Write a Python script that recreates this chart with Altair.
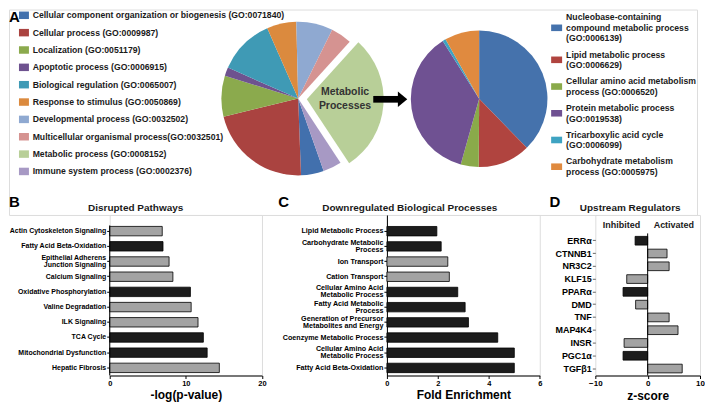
import altair as alt
import pandas as pd
import numpy as np

FONT = "Liberation Sans"
TXT = "#1a1a1a"

# ---------------- Panel A data ----------------
GO_LABELS = [
    "Cellular component organization or biogenesis (GO:0071840)",
    "Cellular process (GO:0009987)",
    "Localization (GO:0051179)",
    "Apoptotic process (GO:0006915)",
    "Biological regulation (GO:0065007)",
    "Response to stimulus (GO:0050869)",
    "Developmental process (GO:0032502)",
    "Multicellular organismal process(GO:0032501)",
    "Metabolic process (GO:0008152)",
    "Immune system process (GO:0002376)",
]
GO_SHARE = [4.8, 21.8, 8.6, 1.8, 11.8, 6.2, 7.7, 4.4, 29.0, 3.9]
GO_COLORS = ["#4270AD", "#AA4340", "#8BAA4D", "#6E528F", "#3F9AB5",
             "#DB8A3E", "#8FA9D1", "#D59391", "#B8CF98", "#A799C4"]

MET_LABELS = [
    "Nucleobase-containing|compound metabolic process|(GO:0006139)",
    "Lipid metabolic process|(GO:0006629)",
    "Cellular amino acid metabolism|process (GO:0006520)",
    "Protein metabolic process|(GO:0019538)",
    "Tricarboxylic acid cycle|(GO:0006099)",
    "Carbohydrate metabolism|process (GO:0005975)",
]
MET_SHARE = [37.7, 12.4, 4.25, 36.7, 0.75, 8.2]
MET_COLORS = ["#4572AC", "#B0443F", "#8AAA4A", "#6F5192", "#3EA3C2", "#E08A3F"]

# ---------------- Panel B data ----------------
B_LABELS = ["Actin Cytoskeleton Signaling", "Fatty Acid Beta-Oxidation",
            "Epithelial Adherens|Junction Signaling", "Calcium Signaling",
            "Oxidative Phosphorylation", "Valine Degradation", "ILK Signaling",
            "TCA Cycle", "Mitochondrial Dysfunction", "Hepatic Fibrosis"]
B_VALUES = [6.9, 7.0, 7.8, 8.3, 10.6, 10.7, 11.6, 12.3, 12.8, 14.4]
B_GROUP = ["other", "metabolic", "other", "other", "metabolic", "other",
           "other", "metabolic", "metabolic", "other"]

# ---------------- Panel C data ----------------
C_LABELS = ["Lipid Metabolic Process", "Carbohydrate Metabolic|Process",
            "Ion Transport", "Cation Transport",
            "Cellular Amino Acid|Metabolic Process", "Fatty Acid Metabolic|Process",
            "Generation of Precursor|Metabolites and Energy",
            "Coenzyme Metabolic Process", "Cellular Amino Acid|Metabolic Process ",
            "Fatty Acid Beta-Oxidation"]
C_VALUES = [1.96, 2.13, 2.39, 2.45, 2.78, 3.07, 3.2, 4.35, 5.0, 5.0]
C_GROUP = ["metabolic", "metabolic", "other", "other", "metabolic", "metabolic",
           "metabolic", "metabolic", "metabolic", "metabolic"]

# ---------------- Panel D data ----------------
D_LABELS = ["ERRα", "CTNNB1", "NR3C2", "KLF15", "PPARα", "DMD", "TNF",
            "MAP4K4", "INSR", "PGC1α", "TGFβ1"]
D_VALUES = [-2.4, 3.7, 4.1, -4.0, -4.7, -2.3, 4.1, 5.8, -4.5, -4.7, 6.6]
D_GROUP = ["metabolic", "other", "other", "other", "metabolic", "other",
           "other", "other", "other", "metabolic", "other"]
D_SIDES = ["Inhibited", "Activated"]
D_SIDE_POS = [-5, 5]

GROUP_DOMAIN = ["other", "metabolic"]
GROUP_COLORS = ["#a3a3a3", "#1c1c1c"]

TWO_PI = 2 * np.pi


def pie_frame(labels, shares):
    df = pd.DataFrame({"cat": labels, "share": shares})
    df["end"] = df["share"].cumsum()
    df["start"] = df["end"] - df["share"]
    return df


def pie_layer(df, cx, cy, r, start, domain, colors):
    return alt.Chart(df).mark_arc(strokeWidth=0).encode(
        theta=alt.Theta("start:Q", scale=alt.Scale(domain=[0, 100], range=[start, start + TWO_PI])),
        theta2="end:Q",
        color=alt.Color("cat:N", scale=alt.Scale(domain=domain, range=colors), legend=None),
        x=alt.value(cx), y=alt.value(cy), radius=alt.value(r),
    )


def legend_layers(labels, colors, sym_x, txt_x, top, lh, gap, sym_shape, sym_size, font_size):
    """Legend drawn as marks: one entry per category, symbol centred on its text block."""
    leg = pd.DataFrame({"cat": labels})
    leg["n"] = [len(s.split("|")) for s in labels]
    leg["h"] = leg["n"] * lh
    leg["yc"] = top + (leg["h"] + gap).cumsum() - gap - leg["h"] / 2
    leg["ty"] = leg["yc"] - (leg["n"] - 1) * lh / 2
    sym = alt.Chart(leg).mark_point(
        shape=sym_shape, size=sym_size, filled=True, opacity=1, strokeWidth=0
    ).encode(
        x=alt.value(sym_x), y=alt.Y("yc:Q", scale=None),
        color=alt.Color("cat:N", scale=alt.Scale(domain=labels, range=colors), legend=None),
    )
    txt = alt.Chart(leg).transform_calculate(lines="split(datum.cat, '|')").mark_text(
        align="left", baseline="middle", font=FONT, fontSize=font_size, fontWeight="bold",
        color=TXT, lineHeight=lh,
    ).encode(x=alt.value(txt_x), y=alt.Y("ty:Q", scale=None), text="lines:N")
    return [sym, txt]


def note(text, x, y, size, align="center", baseline="alphabetic", color=TXT, weight="bold", line_height=None):
    kw = dict(text=text, font=FONT, fontSize=size, fontWeight=weight, align=align,
              baseline=baseline, color=color)
    if line_height is not None:
        kw["lineHeight"] = line_height
    return alt.Chart(pd.DataFrame({"a": [0]})).mark_text(**kw).encode(
        x=alt.value(x), y=alt.value(y))


go = pie_frame(GO_LABELS, GO_SHARE)
met = pie_frame(MET_LABELS, MET_SHARE)
exploded_cat = GO_LABELS[8]

START1 = np.deg2rad(160.6)
pie1_main = pie_layer(go[go["cat"] != exploded_cat], 290, 89.3, 77, START1, GO_LABELS, GO_COLORS)
pie1_expl = pie_layer(go[go["cat"] == exploded_cat], 298.7, 89.9, 77, START1, GO_LABELS, GO_COLORS)
pie2 = pie_layer(met, 471.5, 89.5, 68.5, 0.0, MET_LABELS, MET_COLORS)

left_leg = legend_layers(GO_LABELS, GO_COLORS, 15, 23.7, 1.4, 8.7, 8.7,
                         "M-1,-0.75H1V0.75H-1Z", 100, 8.7)
right_leg = legend_layers(MET_LABELS, MET_COLORS, 549.2, 558.7, 2.4, 10.6, 5.6,
                          "M-1,-0.6H1V0.6H-1Z", 121, 8.7)

arrow_shaft = alt.Chart(pd.DataFrame({"a": [0]})).mark_rule(color="black", strokeWidth=6.7).encode(
    x=alt.value(365.3), x2=alt.value(390.5), y=alt.value(90))
arrow_head = alt.Chart(pd.DataFrame({"a": [0]})).mark_point(
    shape="M-0.6,-1L0.6,0L-0.6,1Z", size=246, filled=True, color="black", opacity=1, strokeWidth=0
).encode(x=alt.value(394.7), y=alt.value(90))

TOP_H = 206
top = alt.layer(
    pie1_main, pie1_expl, pie2, *left_leg, *right_leg, arrow_shaft, arrow_head,
    note(["Metabolic", "Processes"], 337, 83, 10.5, baseline="middle", color="#333333", line_height=13.5),
    note("A", 0, 12, 15, align="left", color="black"),
    note("B", 0, 198, 15, align="left", color="black"),
    note("C", 270, 198, 15, align="left", color="black"),
    note("D", 542, 198, 15, align="left", color="black"),
    note("Disrupted Pathways", 127, 199, 10, baseline="middle"),
    note("Downregulated Biological  Processes", 402, 199, 10, baseline="middle"),
    note("Upstream Regulators", 623, 199, 10, baseline="middle"),
).resolve_scale(theta="independent", color="independent").properties(width=690, height=TOP_H)

H = 161
MULTI = "indexof(datum.label, '|') >= 0"


def x_axis(values, title, label_size=7.5):
    return alt.Axis(values=values, title=title, grid=False, titleFont=FONT, titleFontSize=12,
                    titleFontWeight="bold", titleColor="black", titlePadding=3,
                    labelFont=FONT, labelFontSize=label_size, labelFontWeight="bold", labelColor="black",
                    labelPadding=1, tickSize=3, tickColor="black", domainColor="black",
                    labelFlush=False, format="d")


def y_axis(size, tick_color="black", domain=False, line_height=7):
    return alt.Axis(title=None, labelExpr="split(datum.label, '|')", labelFont=FONT,
                    labelFontSize=size, labelFontWeight="bold", labelColor="black",
                    labelLineHeight=line_height,
                    labelOffset={"condition": {"test": MULTI, "value": -line_height / 2}, "value": 0},
                    tickSize=3, tickColor=tick_color,
                    domain=domain, domainColor="black", labelPadding=1, labelLimit=200)


def bar_chart(labels, values, groups, xdom, xvals, xtitle, width, ysize, ypad, ydomain, tick_color="black", xlab=7.5):
    df = pd.DataFrame({"label": labels, "value": values, "group": groups})
    pi, po, al = ypad
    return alt.Chart(df).mark_bar(stroke="black", strokeWidth=0.8).encode(
        x=alt.X("value:Q", scale=alt.Scale(domain=xdom, nice=False, zero=True),
                axis=x_axis(xvals, xtitle, xlab)),
        y=alt.Y("label:N", sort=None,
                scale=alt.Scale(paddingInner=pi, paddingOuter=po, align=al),
                axis=y_axis(ysize, tick_color, ydomain)),
        fill=alt.Fill("group:N", scale=alt.Scale(domain=GROUP_DOMAIN, range=GROUP_COLORS), legend=None),
    ).properties(width=width, height=H)


B_bars = bar_chart(B_LABELS, B_VALUES, B_GROUP, [0, 20], [0, 5, 10, 15, 20], "-log(p-value)",
                   152.7, 7, (0.38, 0.4735, 0.795), False)
B_rule = alt.Chart(pd.DataFrame({"a": [0]})).mark_rule(color="black", strokeWidth=1).encode(
    x=alt.datum(0), y=alt.value(10.5), y2=alt.value(H))
B = alt.layer(B_bars, B_rule)

C = bar_chart(C_LABELS, C_VALUES, C_GROUP, [0, 6], [0, 2, 4, 6], "Fold Enrichment",
              153.3, 7.2, (0.38, 0.4735, 0.8), True)

D_bars = bar_chart(D_LABELS, D_VALUES, D_GROUP, [-10, 10], [-10, -5, 0, 5, 10], "z-score",
                   105, 9, (0.32, 0.94, 0.891), False, tick_color="#666666", xlab=8)
D_rule = alt.Chart(pd.DataFrame({"a": [0]})).mark_rule(color="black", strokeWidth=1).encode(
    x=alt.datum(0), y=alt.value(18.5), y2=alt.value(H))
D_side = alt.Chart(pd.DataFrame({"side": D_SIDES, "pos": D_SIDE_POS})).mark_text(
    font=FONT, fontSize=9, fontWeight="bold", color=TXT, baseline="middle").encode(
    x=alt.X("pos:Q"), y=alt.value(10), text="side:N")
D = alt.layer(D_bars, D_rule, D_side)


def spacer(w):
    return alt.Chart(pd.DataFrame({"a": [0]})).mark_point(opacity=0).properties(width=w, height=H)


bottom = alt.hconcat(spacer(101), B, spacer(125), C, spacer(55), D, spacing=0, bounds="flush")

chart = alt.vconcat(top, bottom, spacing=0, bounds="flush").properties(padding=0).configure_view(
    strokeWidth=0).configure(font=FONT)

chart.save("out.html", embed_options={"renderer": "svg", "actions": False})
